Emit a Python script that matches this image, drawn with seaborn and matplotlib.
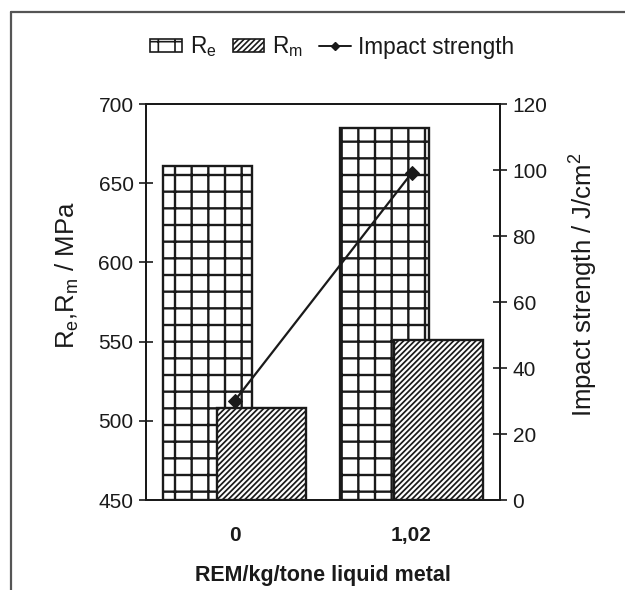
import matplotlib
matplotlib.use("Agg")
import matplotlib.pyplot as plt
import seaborn as sns
import numpy as np
import pandas as pd
from matplotlib.patches import Patch
from matplotlib.lines import Line2D

# ---- data ----
categories = ["0", "1,02"]
re_values = [661, 685]        # Re, MPa
rm_values = [508, 551]        # Rm, MPa
impact_values = [30, 99]      # Impact strength, J/cm^2
left_ticks = [450, 500, 550, 600, 650, 700]
right_ticks = [0, 20, 40, 60, 80, 100, 120]

sns.set_theme(style="white")
plt.rcParams["font.family"] = ["Liberation Sans", "DejaVu Sans"]
plt.rcParams["hatch.color"] = "#1a1a1a"
plt.rcParams["mathtext.fontset"] = "custom"
plt.rcParams["mathtext.rm"] = "Liberation Sans"

FS = 15
LFS = 18.5
INK = "#1a1a1a"
RE_HATCH, RM_HATCH = "+", "//////"
RE_HLW, RM_HLW = 1.7, 1.25

fig = plt.figure(figsize=(6.25, 5.9), dpi=100)
ax = fig.add_axes([146/625, 1-500/590, (500-146)/625, (500-104)/590])

centers = np.arange(len(categories)) + 0.5
width = 0.505
off = 0.152

plt.rcParams["hatch.linewidth"] = RE_HLW
re_bars = ax.bar(centers - off, np.array(re_values) - 450, bottom=450, width=width,
                 facecolor="white", edgecolor=INK, linewidth=1.7, hatch=RE_HATCH, zorder=2)
plt.rcParams["hatch.linewidth"] = RM_HLW
rm_bars = ax.bar(centers + off, np.array(rm_values) - 450, bottom=450, width=width,
                 facecolor="white", edgecolor=INK, linewidth=1.7, hatch=RM_HATCH, zorder=3)
for bars, hlw in ((re_bars, RE_HLW), (rm_bars, RM_HLW)):
    for p in bars:
        if hasattr(p, "set_hatch_linewidth"):
            p.set_hatch_linewidth(hlw)

ax.set_xlim(0, len(categories))
ax.set_ylim(450, 700)
ax.set_yticks(left_ticks)
ax.set_yticklabels([str(t) for t in left_ticks], fontsize=FS, color=INK)
ax.set_xticks(np.arange(len(categories) + 1))
ax.set_xticklabels([])
ax.set_xticks(centers, minor=True)
ax.set_xticklabels(categories, minor=True, fontsize=FS, fontweight="bold", color=INK)
ax.tick_params(axis="x", which="major", direction="inout", length=10, width=1.2, color=INK)
ax.tick_params(axis="x", which="minor", length=0, pad=19)
ax.tick_params(axis="y", direction="inout", length=10, width=1.2, color=INK, pad=4, left=True)
ax.set_ylabel("R$_\\mathregular{e}$,R$_\\mathregular{m}$ / MPa", fontsize=LFS, color=INK)
ax.yaxis.set_label_coords(-0.185, 0.568)
ax.set_xlabel("REM/kg/tone liquid metal", fontsize=15.5, fontweight="bold", color=INK, labelpad=14)
for s in ax.spines.values():
    s.set_color(INK)
    s.set_linewidth(1.4)

ax2 = ax.twinx()
df = pd.DataFrame({"x": centers, "impact": impact_values})
sns.lineplot(data=df, x="x", y="impact", ax=ax2, color=INK, linewidth=1.6,
             marker="D", markersize=7, markeredgecolor=INK, zorder=5)
ax2.set_ylim(0, 120)
ax2.set_yticks(right_ticks)
ax2.set_yticklabels([str(t) for t in right_ticks], fontsize=FS, color=INK)
ax2.tick_params(axis="y", direction="inout", length=10, width=1.2, color=INK, pad=4, right=True)
ax2.set_ylabel("Impact strength / J/cm$^\\mathregular{2}$", fontsize=LFS, color=INK)
ax2.yaxis.set_label_coords(1.186, 0.543)
ax2.set_xlabel("")
for s in ax2.spines.values():
    s.set_color(INK)
    s.set_linewidth(1.4)
ax2.set_xlim(0, len(categories))

plt.rcParams["hatch.linewidth"] = 1.2
handles = [
    Patch(facecolor="white", edgecolor=INK, hatch=RE_HATCH, linewidth=1.2),
    Patch(facecolor="white", edgecolor=INK, hatch=RM_HATCH, linewidth=1.2),
    Line2D([], [], color=INK, linewidth=1.4, marker="D", markersize=4),
]
labels = ["R$_\\mathregular{e}$", "R$_\\mathregular{m}$", "Impact strength"]
fig.legend(handles, labels, loc="center", bbox_to_anchor=(0.532, 1-47/590), ncol=3,
           frameon=False, fontsize=16.3, handlelength=1.4, handleheight=0.45,
           handletextpad=0.35, columnspacing=0.7, labelcolor=INK)

# outer frame (top and left edges)
fig.add_artist(Line2D([11/625, 11/625], [0, 1-12/590], transform=fig.transFigure,
                      color="#555555", linewidth=1.6))
fig.add_artist(Line2D([11/625, 1], [1-12/590, 1-12/590], transform=fig.transFigure,
                      color="#555555", linewidth=1.6))

fig.savefig("out.png", dpi=100)
